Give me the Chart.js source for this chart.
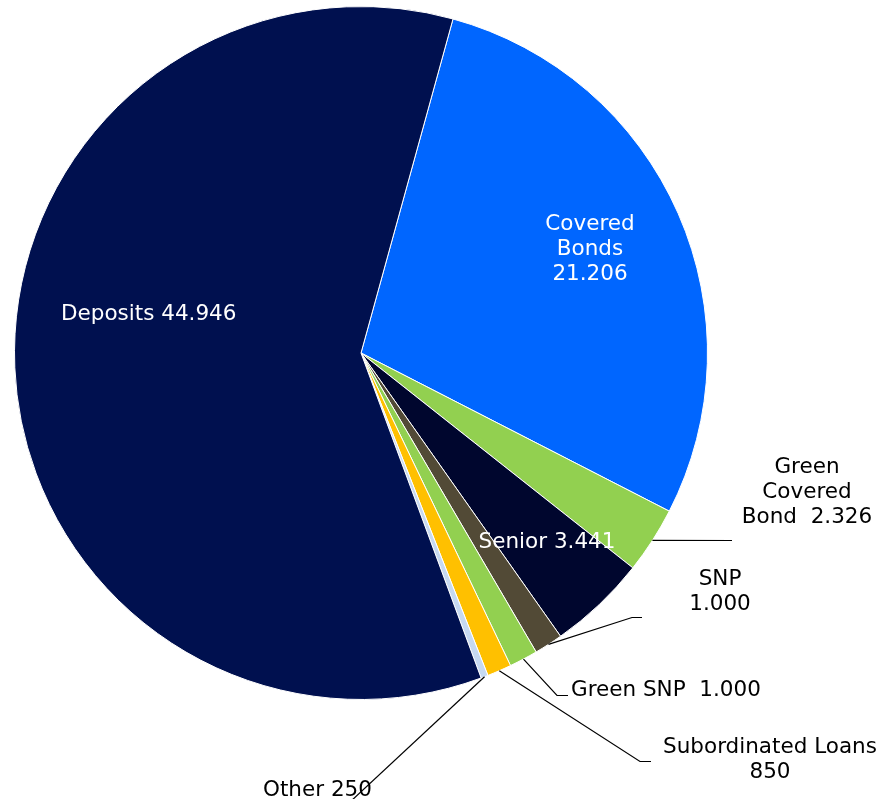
<!DOCTYPE html>
<html>
<head>
<meta charset="utf-8">
<script src="https://cdn.jsdelivr.net/npm/chart.js@4.4.1/dist/chart.umd.min.js"></script>
<style>
  html, body { margin: 0; padding: 0; background: #fff; }
  canvas { display: block; }
</style>
</head>
<body>
<canvas id="grafica" width="879" height="799"></canvas>
<script>
// Datos del gráfico
const categorias = ['Covered Bonds', 'Green Covered Bond', 'Senior', 'SNP', 'Green SNP', 'Subordinated Loans', 'Other', 'Deposits'];
const valores = [21206, 2326, 3441, 1000, 1000, 850, 250, 44946];
const etiquetas = [
  ['Covered', 'Bonds', '21.206'],
  ['Green', 'Covered', 'Bond  2.326'],
  ['Senior 3.441'],
  ['SNP', '1.000'],
  ['Green SNP  1.000'],
  ['Subordinated Loans', '850'],
  ['Other 250'],
  ['Deposits 44.946']
];
const colores = ['#0066FF', '#92D050', '#00062E', '#524A36', '#92D050', '#FFC000', '#C6D9F1', '#00104F'];

// Dónde va cada etiqueta (texto y línea guía)
const posEtiquetas = [
  { x: 590, y: 224, align: 'center', color: '#fff' },
  { x: 807, y: 467, align: 'center', color: '#000', linea: [[732, 540.5]] },
  { x: 547, y: 542, align: 'center', color: '#fff' },
  { x: 720, y: 579, align: 'center', color: '#000', linea: [[632, 617.5], [642, 617.5]] },
  { x: 571, y: 690, align: 'left', color: '#000', linea: [[557, 695.5], [568, 695.5]] },
  { x: 770, y: 747, align: 'center', color: '#000', linea: [[640, 761.5], [651, 761.5]] },
  { x: 263, y: 790, align: 'left', color: '#000', linea: [[350, 802]] },
  { x: 61, y: 314, align: 'left', color: '#fff' }
];

// Plugin para pintar las etiquetas con sus líneas
const etiquetasPlugin = {
  id: 'etiquetas',
  afterDatasetsDraw(chart) {
    const ctx = chart.ctx;
    const arcos = chart.getDatasetMeta(0).data;
    ctx.save();
    ctx.font = '21.5px "DejaVu Sans", Verdana, sans-serif';
    ctx.textBaseline = 'middle';
    arcos.forEach(function (arco, i) {
      const p = posEtiquetas[i];
      const a = arco.getProps(['x', 'y', 'startAngle', 'endAngle', 'outerRadius'], true);
      if (p.linea) {
        const medio = (a.startAngle + a.endAngle) / 2;
        ctx.beginPath();
        ctx.moveTo(a.x + Math.cos(medio) * a.outerRadius, a.y + Math.sin(medio) * a.outerRadius);
        p.linea.forEach(function (pt) { ctx.lineTo(pt[0], pt[1]); });
        ctx.strokeStyle = '#000';
        ctx.lineWidth = 1.2;
        ctx.stroke();
      }
      ctx.fillStyle = p.color;
      ctx.textAlign = p.align;
      etiquetas[i].forEach(function (t, j) {
        ctx.fillText(t, p.x, p.y + j * 25);
      });
    });
    ctx.restore();
  }
};

const data = {
  labels: categorias,
  datasets: [{
    data: valores,
    backgroundColor: colores,
    borderColor: '#fff',
    borderWidth: 1
  }]
};

const config = {
  type: 'pie',
  data: data,
  plugins: [etiquetasPlugin],
  options: {
    responsive: false,
    animation: false,
    rotation: 15.4,
    layout: { padding: { left: 14, top: 6, right: 171, bottom: 99 } },
    plugins: {
      legend: { display: false },
      tooltip: { enabled: false }
    }
  }
};

const grafica = new Chart(document.getElementById('grafica'), config);
</script>
</body>
</html>
